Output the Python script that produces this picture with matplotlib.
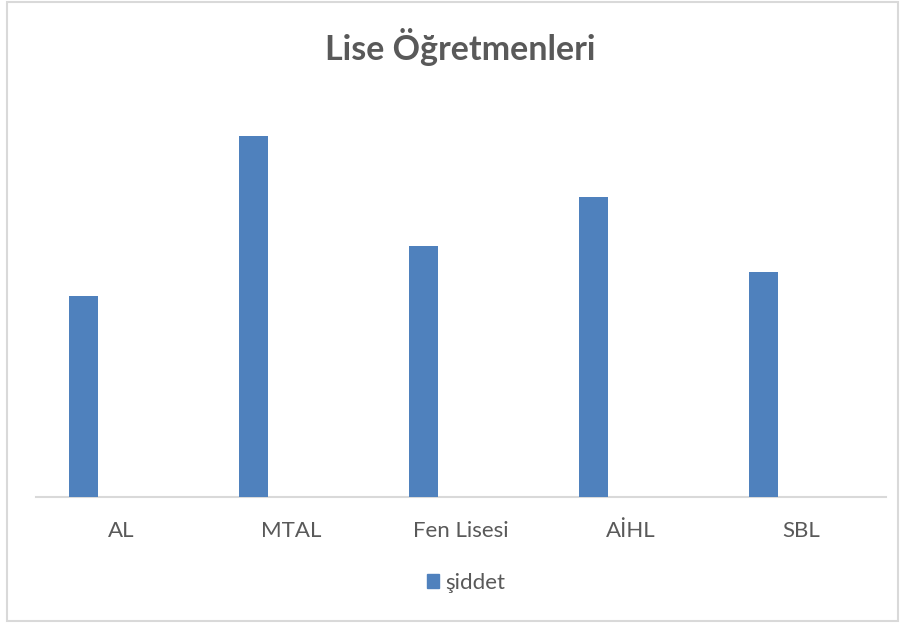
import matplotlib.pyplot as plt
from matplotlib.patches import Rectangle, Patch
import numpy as np

categories = ["AL", "MTAL", "Fen Lisesi", "AİHL", "SBL"]
siddet = [2.01, 3.61, 2.51, 3.00, 2.25]

BLUE = "#4F81BD"
GREY_TXT = "#595959"
GREY_LINE = "#D9D9D9"

plt.rcParams["font.family"] = ["Lato", "DejaVu Sans"]


def main():
    fig = plt.figure(figsize=(9.01, 6.23), dpi=100)
    W, H = 901, 623
    ax = fig.add_axes([36 / W, (H - 497) / H, 850 / W, 397 / H])

    x = np.arange(len(categories))
    ax.bar(x - 0.22, siddet, width=0.17, color=BLUE, label="şiddet", zorder=3)

    ax.set_xlim(-0.5, len(categories) - 0.5)
    ax.set_ylim(0, 3.97)
    ax.set_xticks(x)
    ax.set_xticklabels(categories, fontsize=16, color=GREY_TXT)
    ax.tick_params(axis="x", length=0, pad=17)
    ax.set_yticks([])
    for side in ["top", "right", "left"]:
        ax.spines[side].set_visible(False)
    ax.spines["bottom"].set_color(GREY_LINE)
    ax.spines["bottom"].set_linewidth(1.5)

    fig.text(460 / W, 1 - 47 / H, "Lise Öğretmenleri", ha="center", va="center",
             fontsize=24.5, fontweight="bold", color=GREY_TXT)

    fig.legend(handles=[Patch(color=BLUE, label="şiddet")],
               loc="center", bbox_to_anchor=(466 / W, 1 - 583 / H),
               frameon=False, fontsize=16, handlelength=0.55, handleheight=0.55,
               handletextpad=0.3, labelcolor=GREY_TXT)

    fig.patches.append(Rectangle((7 / W, 2 / H), 891 / W, 619 / H,
                                 transform=fig.transFigure, fill=False,
                                 edgecolor=GREY_LINE, linewidth=1.5))

    fig.savefig("out.png", dpi=100)


if __name__ == "__main__":
    main()
